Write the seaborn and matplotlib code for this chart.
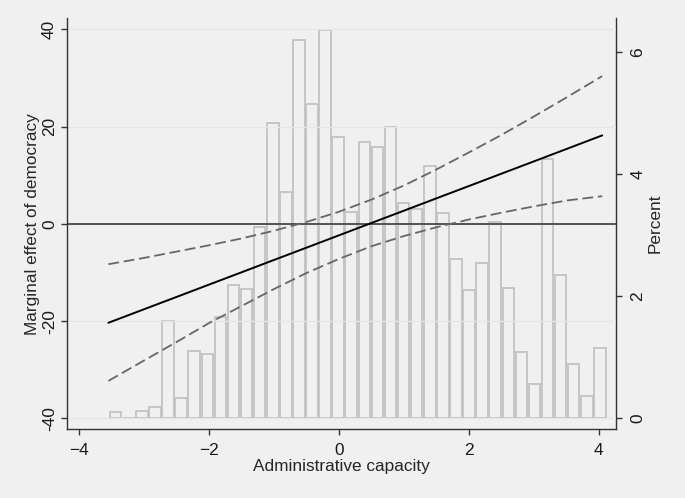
import pandas as pd
import matplotlib
matplotlib.use("Agg")
import matplotlib.pyplot as plt
import seaborn as sns

# marginal effect line and 95% band
capacity = [-3.55, -3.0, -2.5, -2.0, -1.5, -1.0, -0.5, 0.0, 0.5, 1.0, 1.5, 2.0, 2.5, 3.0, 3.5, 4.05]
effect = [-20.35, -17.56, -15.03, -12.49, -9.96, -7.42, -4.89, -2.35, 0.19, 2.72, 5.26, 7.79, 10.33, 12.86, 15.4, 18.2]
ci_upper = [-8.3, -7.0, -5.7, -4.4, -3.0, -1.4, 0.4, 2.5, 5.0, 7.9, 11.2, 14.7, 18.3, 22.1, 26.0, 30.4]
ci_lower = [-32.3, -28.1, -24.3, -20.4, -16.9, -13.4, -10.1, -7.2, -4.6, -2.5, -0.7, 0.9, 2.3, 3.6, 4.8, 5.7]

# histogram of administrative capacity (percent per bin)
bin_start = -3.538
bin_width = 0.2014
percent = [0.10, 0.0, 0.125, 0.18, 1.60, 0.34, 1.11, 1.05, 1.66, 2.185,
           2.125, 3.13, 4.85, 3.715, 6.21, 5.16, 6.366, 4.62, 3.38, 4.53,
           4.45, 4.78, 3.53, 3.43, 4.14, 3.36, 2.61, 2.10, 2.54, 3.22,
           2.14, 1.09, 0.557, 4.26, 2.35, 0.885, 0.366, 1.16]

sns.set_style("ticks")
plt.rcParams["font.family"] = ["Liberation Sans", "DejaVu Sans"]
fs = 12.4

fig = plt.figure(figsize=(6.85, 4.98), dpi=100, facecolor="#f0f0f0")
ax = fig.add_axes([0.0985, 0.1386, 0.8005, 0.8247])
ax2 = ax.twinx()

# histogram on the right axis
edges = [bin_start + bin_width * i for i in range(len(percent) + 1)]
hist = pd.DataFrame({"capacity": [e + bin_width / 2 for e in edges[:-1]], "percent": percent})
hist = hist[hist["percent"] > 0]
sns.histplot(data=hist, x="capacity", weights="percent", bins=edges, fill=False,
             shrink=0.88, color="#c2c2c2", linewidth=1.3, ax=ax2)
ax2.set_facecolor("white")
ax2.set_ylim(-0.175, 6.56)
ax2.set_yticks([0, 2, 4, 6])
ax2.set_yticklabels(["0", "2", "4", "6"], rotation=90, va="center")
ax2.set_ylabel("Percent", fontsize=fs, labelpad=1.5)

# lines on the left axis, drawn above the bars
ax.set_zorder(ax2.get_zorder() + 1)
ax.patch.set_visible(False)
ax.axhline(0, color="#3a3a3a", lw=1.2)
sns.lineplot(x=capacity, y=effect, color="black", lw=1.4, ax=ax)
sns.lineplot(x=capacity, y=ci_upper, color="#666666", lw=1.3, linestyle=(0, (6, 2.6)), ax=ax)
sns.lineplot(x=capacity, y=ci_lower, color="#666666", lw=1.3, linestyle=(0, (6, 2.6)), ax=ax)

ax.set_xlim(-4.18, 4.26)
ax.set_ylim(-42.2, 42.3)
ax.set_xticks([-4, -2, 0, 2, 4])
ax.set_yticks([-40, -20, 0, 20, 40])
ax.set_yticklabels(["-40", "-20", "0", "20", "40"], rotation=90, va="center")
ax.yaxis.grid(True, color="#e6e6e6", lw=0.9)
ax.set_xlabel("Administrative capacity", fontsize=fs, labelpad=1)
ax.set_ylabel("Marginal effect of democracy", fontsize=fs, labelpad=1.5)

for a in (ax, ax2):
    a.spines["top"].set_visible(False)
    for s in ("left", "bottom", "right"):
        a.spines[s].set_color("#333333")
        a.spines[s].set_linewidth(1.0)
    a.tick_params(direction="out", length=4.5, width=1, color="#333333",
                  labelsize=fs, labelcolor="#1a1a1a")
ax.tick_params(axis="y", pad=3)
ax.tick_params(axis="x", pad=5.5)
ax2.tick_params(axis="y", pad=6)
ax.spines["right"].set_visible(False)
ax2.spines["left"].set_visible(False)
ax2.spines["bottom"].set_visible(False)

fig.savefig("out.png", dpi=100, facecolor=fig.get_facecolor())
